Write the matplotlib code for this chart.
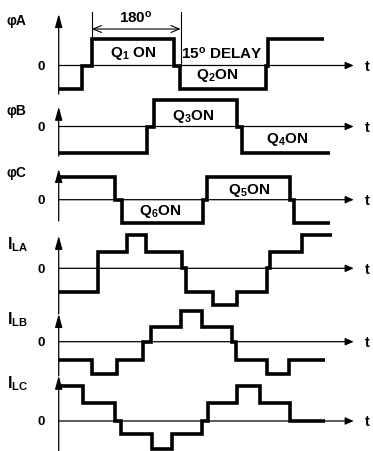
import matplotlib
matplotlib.use('Agg')
import matplotlib.pyplot as plt

plt.rcParams['font.family'] = ['Liberation Sans', 'DejaVu Sans']
plt.rcParams['font.weight'] = 'bold'
plt.rcParams['mathtext.fontset'] = 'custom'
plt.rcParams['mathtext.rm'] = 'Liberation Sans:bold'
plt.rcParams['mathtext.it'] = 'Liberation Sans:bold'
plt.rcParams['mathtext.bf'] = 'Liberation Sans:bold'
plt.rcParams['mathtext.default'] = 'rm'

# time in electrical degrees from the vertical axis, levels in arbitrary units
phase_a_t = [0, 46, 66, 230, 243, 414, 419, 531]
phase_a_v = [-0.95, 0, 1.05, 0, -0.95, 0, 1.05]

phase_b_t = [0, 176, 190, 357, 366, 543]
phase_b_v = [-1.07, 0, 1.07, 0, -1.07]

phase_c_t = [0, 113, 126, 289, 297, 463, 471, 543]
phase_c_v = [0.9, 0, -0.93, 0, 0.9, 0, -0.93]

ila_t = [0, 79, 136, 174, 247, 254, 309, 357, 416, 423, 486, 546]
ila_v = [-0.93, 0.67, 1.32, 0.67, 0, -0.93, -1.47, -0.93, 0, 0.67, 1.32]

ilb_t = [0, 67, 116, 168, 184, 245, 286, 346, 354, 416, 461, 533]
ilb_v = [-0.74, -1.3, -0.74, 0, 0.58, 1.24, 0.58, 0, -0.74, -1.3, -0.74]

ilc_t = [0, 49, 113, 124, 186, 226, 286, 299, 356, 403, 463, 533]
ilc_v = [1.4, 0.72, 0, -0.52, -1.12, -0.52, 0, 0.72, 1.4, 0.72, 0]

names = ['\u03c6A', '\u03c6B', '\u03c6C', 'I$_{LA}$', 'I$_{LB}$', 'I$_{LC}$']
name_size = [10, 10, 10, 11.5, 11.5, 11.5]
times = [phase_a_t, phase_b_t, phase_c_t, ila_t, ilb_t, ilc_t]
levels = [phase_a_v, phase_b_v, phase_c_v, ila_v, ilb_v, ilc_v]

# layout in pixels
W, H = 373, 452
X0, X1 = 58.7, 353.7
TMAX = 590
zero_px = [66.5, 127.5, 200.7, 269.3, 342.7, 422.0]
label_px = [25, 115, 177, 249, 324, 388]
axis_top = [2.06, 0.79, 1.23, 1.3, 1.11, 1.81]
axis_bot = [-1.14, -1.18, -0.85, -1.83, -1.37, -1.25]

fig = plt.figure(figsize=(W / 100, H / 100), dpi=100)

def fx(x):
    return x / W

def fy(y):
    return 1 - y / H

axes = []
for i in range(6):
    z = zero_px[i]
    ax = fig.add_axes([fx(X0), fy(z + 60), (X1 - X0) / W, 120 / H])
    ax.set_xlim(0, TMAX)
    ax.set_ylim(-2.4, 2.4)
    ax.axis('off')
    ax.annotate('', xy=(TMAX, 0), xytext=(0, 0), annotation_clip=False,
                arrowprops=dict(arrowstyle='-|>,head_length=0.5,head_width=0.22',
                                lw=0.9, color='k', shrinkA=0, shrinkB=0,
                                mutation_scale=10))
    ax.annotate('', xy=(0, axis_top[i]), xytext=(0, axis_bot[i]), annotation_clip=False,
                arrowprops=dict(arrowstyle='-|>,head_length=0.8,head_width=0.22',
                                lw=0.9, color='k', shrinkA=0, shrinkB=0,
                                mutation_scale=10))
    ax.stairs(levels[i], times[i], baseline=None, color='k', lw=2.6, clip_on=False)
    fig.text(fx(7), fy(label_px[i]), names[i], ha='left', va='baseline',
             fontsize=name_size[i])
    fig.text(fx(41.5), fy(z + 0.5), '0', ha='center', va='center', fontsize=9.5)
    fig.text(fx(365), fy(z + 0.5), 't', ha='left', va='center', fontsize=10.5)
    axes.append(ax)

fs = 11
ax = axes[0]
ax.text(149, 0.53, 'Q$_1$ ON', ha='center', va='center', fontsize=fs)
ax.text(326, 0.53, '15$^{o}$ DELAY', ha='center', va='center', fontsize=fs)
ax.text(316, -0.38, 'Q$_2$ON', ha='center', va='center', fontsize=fs)
ax.text(155, 1.94, '180$^{o}$', ha='center', va='center', fontsize=fs)
ax.plot([66, 66], [1.05, 2.14], color='k', lw=0.8, clip_on=False)
ax.plot([244, 244], [0, 2.14], color='k', lw=0.8, clip_on=False)
ax.annotate('', xy=(66, 1.46), xytext=(244, 1.46), annotation_clip=False,
            arrowprops=dict(arrowstyle='<->,head_length=0.6,head_width=0.25',
                            lw=0.8, color='k', shrinkA=0, shrinkB=0,
                            mutation_scale=10))
axes[1].text(269, 0.43, 'Q$_3$ON', ha='center', va='center', fontsize=fs)
axes[1].text(456, -0.5, 'Q$_4$ON', ha='center', va='center', fontsize=fs)
axes[2].text(381, 0.4, 'Q$_5$ON', ha='center', va='center', fontsize=fs)
axes[2].text(203, -0.44, 'Q$_6$ON', ha='center', va='center', fontsize=fs)

fig.savefig('out.png', dpi=100)
